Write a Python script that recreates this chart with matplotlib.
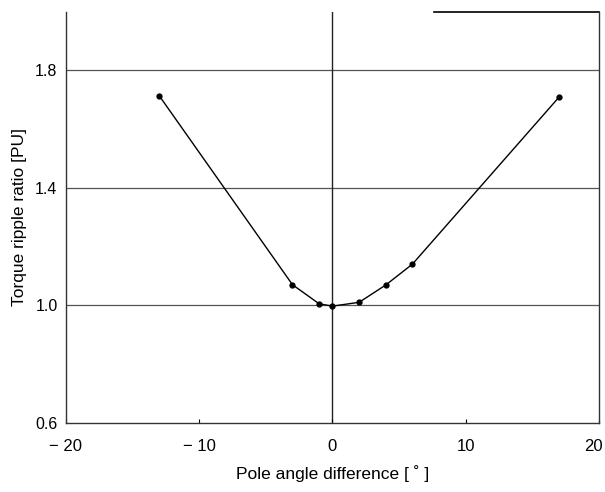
import matplotlib
matplotlib.use("Agg")
import matplotlib.pyplot as plt
from matplotlib.transforms import ScaledTranslation

plt.rcParams['font.family'] = ['Liberation Sans', 'DejaVu Sans']

# pole angle difference [deg] and torque ripple ratio [PU]
angle = [-13, -3, -1, 0, 2, 4, 6, 17]
ripple = [1.714, 1.070, 1.005, 0.997, 1.010, 1.069, 1.140, 1.709]

xticks = [-20, -10, 0, 10, 20]
yticks = [0.6, 1.0, 1.4, 1.8]

fig = plt.figure(figsize=(6.05, 4.92), dpi=100)
ax = fig.add_axes([0.109, 0.141, 0.881, 0.835])

for y in [1.0, 1.4, 1.8]:
    ax.axhline(y, color='#555555', lw=0.9, zorder=1)
ax.axvline(0, color='#222222', lw=1.0, zorder=1)

ax.plot(angle, ripple, color='black', lw=1.0, marker='o', markersize=3.5, zorder=3)

ax.set_xlim(-20, 20)
ax.set_ylim(0.6, 2.0)
ax.set_xticks(xticks)
ax.set_xticklabels(['\u2212 20', '\u2212 10', '0', '10', '20'])
ax.set_yticks(yticks)
ax.set_yticklabels(['0.6', '1.0', '1.4', '1.8'])
ax.tick_params(axis='x', direction='in', length=3, width=0.8, labelsize=12, pad=12)
ax.tick_params(axis='y', length=0, labelsize=11.5, pad=6)

# keep the last x label inside the picture
last = ax.get_xticklabels()[-1]
last.set_transform(last.get_transform() + ScaledTranslation(-6 / 100, 0, fig.dpi_scale_trans))

ax.spines['top'].set_visible(False)
ax.axhline(2.0, xmin=0.69, xmax=1.0, color='black', lw=1.2, clip_on=False)
for s in ['left', 'right', 'bottom']:
    ax.spines[s].set_linewidth(1.0)
    ax.spines[s].set_color('#333333')

ax.set_xlabel('Pole angle difference [ \u02da ]', fontsize=12.5, labelpad=8)
ax.set_ylabel('Torque ripple ratio [PU]', fontsize=12.5, labelpad=6)

fig.savefig('out.png', dpi=100)
